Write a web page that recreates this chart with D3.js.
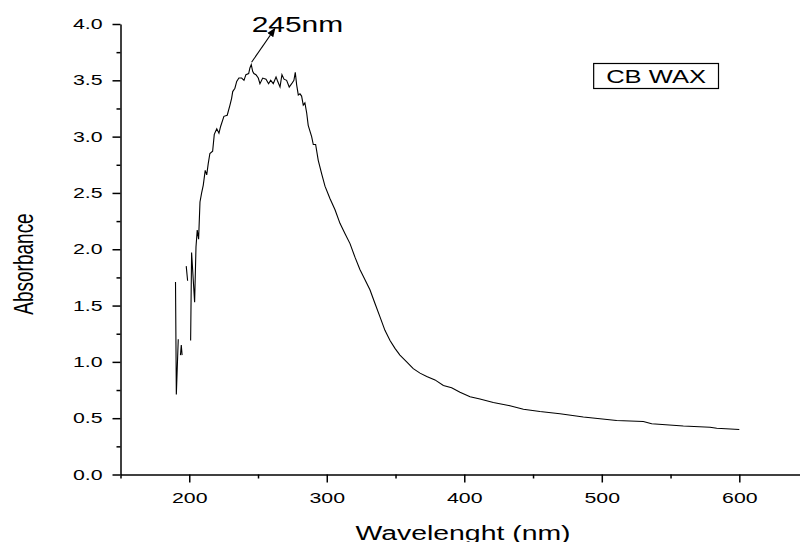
<!DOCTYPE html>
<html>
<head>
<meta charset="utf-8">
<script src="https://cdn.jsdelivr.net/npm/d3@7"></script>
<style>
body { margin: 0; background: #fff }
svg { display: block }
</style>
</head>
<body>
<script>
// spectrum (nm / absorbance), null = break in the trace
var wavelength = [190.0, 190.6, 192.0, 192.5,
    193.6, 194.2, 194.8, 195.3,
    197.8, 198.8, 199.5,
    201.0, 201.7, 203.9, 204.9, 205.8, 206.8, 207.8, 209.0, 210.2, 211.6, 212.7, 213.8, 215.0,
    217.0, 218.2, 220.0, 221.6, 222.8, 225.2, 227.6, 229.6, 230.8, 231.6, 233.2, 234.5, 236.1,
    238.1, 239.8, 241.2, 243.2, 244.1, 245.1, 246.1, 247.0, 248.5, 250.2, 251.4, 253.4, 255.8,
    257.7, 259.2, 261.1, 263.1, 264.0, 266.0, 267.4, 268.9, 270.8, 272.7, 274.5, 276.1, 277.1,
    278.1, 279.3, 280.5, 281.7, 282.9, 284.1, 285.4, 286.5, 289.0, 290.2, 291.9, 293.8, 296.3,
    298.7, 302.3, 306.0, 309.6, 313.2, 316.9, 320.5, 324.1, 327.8, 331.4, 335.0, 338.7, 342.3,
    346.0, 349.6, 353.2, 358.1, 362.9, 367.8, 372.7, 378.7, 384.8, 390.8, 396.9, 404.2, 411.4,
    421.1, 433.2, 443.0, 455.0, 469.6, 486.6, 510.8, 530.2, 536.3, 559.3, 578.7, 583.6, 600.0]
var absorbance = [1.71, 0.71, 1.20, null,
    1.06, 1.15, 1.06, null,
    1.85, 1.72, null,
    1.19, 1.97, 1.53, 2.02, 2.17, 2.09, 2.42, 2.50, 2.57, 2.70, 2.66, 2.76, 2.85,
    2.87, 3.02, 3.07, 3.03, 3.09, 3.18, 3.19, 3.28, 3.34, 3.40, 3.43, 3.49, 3.52,
    3.52, 3.50, 3.55, 3.56, 3.61, 3.64, 3.58, 3.56, 3.55, 3.52, 3.47, 3.52, 3.51,
    3.47, 3.50, 3.47, 3.53, 3.50, 3.44, 3.55, 3.51, 3.50, 3.44, 3.47, 3.50, 3.57,
    3.46, 3.37, 3.38, 3.36, 3.28, 3.30, 3.21, 3.10, 3.00, 2.93, 2.93, 2.79, 2.67,
    2.56, 2.45, 2.35, 2.23, 2.14, 2.05, 1.93, 1.82, 1.73, 1.64, 1.52, 1.40, 1.28,
    1.19, 1.12, 1.06, 1.00, 0.94, 0.90, 0.87, 0.84, 0.79, 0.77, 0.73, 0.69, 0.67,
    0.64, 0.61, 0.58, 0.56, 0.54, 0.51, 0.48, 0.47, 0.45, 0.43, 0.42, 0.41, 0.40]

var xMajor = [200, 300, 400, 500, 600]
var xMinor = [150, 250, 350, 450, 550]
var yMajor = [0.0, 0.5, 1.0, 1.5, 2.0, 2.5, 3.0, 3.5, 4.0]
var yMinor = [0.25, 0.75, 1.25, 1.75, 2.25, 2.75, 3.25, 3.75]

var peak = [245.3, 3.66]        // arrow start (nm, abs)
var peakTip = [262.3, 3.96]     // arrow tip
var peakText = "245nm"
var seriesName = "CB WAX"
var xTitle = "Wavelenght (nm)"
var yTitle = "Absorbance"

var width = 800, height = 542
var stretch = 1.42   // glyphs in the original are drawn wide
var font = "'Liberation Sans', Arial, Helvetica, sans-serif"

var x = d3.scaleLinear().domain([150, 644.5]).range([120.5, 800.5])
var y = d3.scaleLinear().domain([0, 4]).range([474.5, 24])

var svg = d3.select("body").append("svg")
    .attr("width", width)
    .attr("height", height)

var blank = function() { return "" }

// x axis ================================================================
svg.append("g")
    .attr("transform", "translate(0," + y(0) + ")")
    .call(d3.axisBottom(x).tickValues(xMinor).tickSize(4).tickFormat(blank))
    .call(function(g) { g.select(".domain").remove() })

var xAxis = svg.append("g")
    .attr("transform", "translate(0," + y(0) + ")")
    .call(d3.axisBottom(x).tickValues(xMajor).tickSize(8).tickSizeOuter(0).tickFormat(d3.format("d")))
xAxis.selectAll("text")
    .attr("y", 28.5)
    .attr("dy", null)
    .attr("transform", "scale(" + stretch + ",1)")

// y axis ================================================================
svg.append("g")
    .attr("transform", "translate(" + x(150) + ",0)")
    .call(d3.axisLeft(y).tickValues(yMinor).tickSize(4).tickFormat(blank))
    .call(function(g) { g.select(".domain").remove() })

var yAxis = svg.append("g")
    .attr("transform", "translate(" + x(150) + ",0)")
    .call(d3.axisLeft(y).tickValues(yMajor).tickSize(8).tickSizeOuter(0).tickFormat(d3.format(".1f")))
yAxis.selectAll("text")
    .attr("x", null)
    .attr("dy", "0.3em")
    .attr("transform", "translate(-18,0) scale(" + stretch + ",1)")

svg.selectAll(".domain, .tick line")
    .attr("stroke", "#000")
    .attr("stroke-width", 1.5)
svg.selectAll(".tick text")
    .attr("fill", "#000")
    .attr("font-family", font)
    .attr("font-size", "15px")

// axis titles
svg.append("text")
    .attr("transform", "translate(463,540) scale(" + stretch + ",1)")
    .attr("text-anchor", "middle")
    .attr("font-family", font)
    .attr("font-size", "20px")
    .attr("fill", "#000")
    .text(xTitle)

svg.append("text")
    .attr("transform", "translate(33,264) scale(" + stretch + ",1) rotate(-90)")
    .attr("text-anchor", "middle")
    .attr("font-family", font)
    .attr("font-size", "19px")
    .attr("fill", "#000")
    .text(yTitle)

// the spectrum ==========================================================
var points = wavelength.map(function(w, i) { return [w, absorbance[i]] })
var line = d3.line()
    .defined(function(d) { return d[1] !== null })
    .x(function(d) { return x(d[0]) })
    .y(function(d) { return y(d[1]) })

svg.append("path")
    .datum(points)
    .attr("d", line)
    .attr("fill", "none")
    .attr("stroke", "#000")
    .attr("stroke-width", 1.1)
    .attr("stroke-linejoin", "miter")

// peak annotation =======================================================
svg.append("defs").append("marker")
    .attr("id", "head")
    .attr("viewBox", "0 0 10 10")
    .attr("refX", 9).attr("refY", 5)
    .attr("markerWidth", 9).attr("markerHeight", 9)
    .attr("markerUnits", "userSpaceOnUse")
    .attr("orient", "auto")
    .append("path")
    .attr("d", "M0,1L10,5L0,9z")
    .attr("fill", "#000")

svg.append("line")
    .attr("x1", x(peak[0])).attr("y1", y(peak[1]))
    .attr("x2", x(peakTip[0])).attr("y2", y(peakTip[1]))
    .attr("stroke", "#000")
    .attr("stroke-width", 1.1)
    .attr("marker-end", "url(#head)")

svg.append("text")
    .attr("transform", "translate(251.7,32.3) scale(1.36,1)")
    .attr("font-family", font)
    .attr("font-size", "22px")
    .attr("fill", "#000")
    .text(peakText)

// legend box ============================================================
var legend = svg.append("g")
var legendText = legend.append("text")
    .attr("transform", "translate(706,83.3) scale(" + stretch + ",1)")
    .attr("text-anchor", "end")
    .attr("font-family", font)
    .attr("font-size", "18px")
    .attr("fill", "#000")
    .text(seriesName)
var tw = legendText.node().getComputedTextLength() * stretch
legend.insert("rect", "text")
    .attr("x", 706 - tw - 12.5)
    .attr("y", 63.5)
    .attr("width", tw + 25)
    .attr("height", 25)
    .attr("fill", "none")
    .attr("stroke", "#000")
    .attr("stroke-width", 1.2)
</script>
</body>
</html>
